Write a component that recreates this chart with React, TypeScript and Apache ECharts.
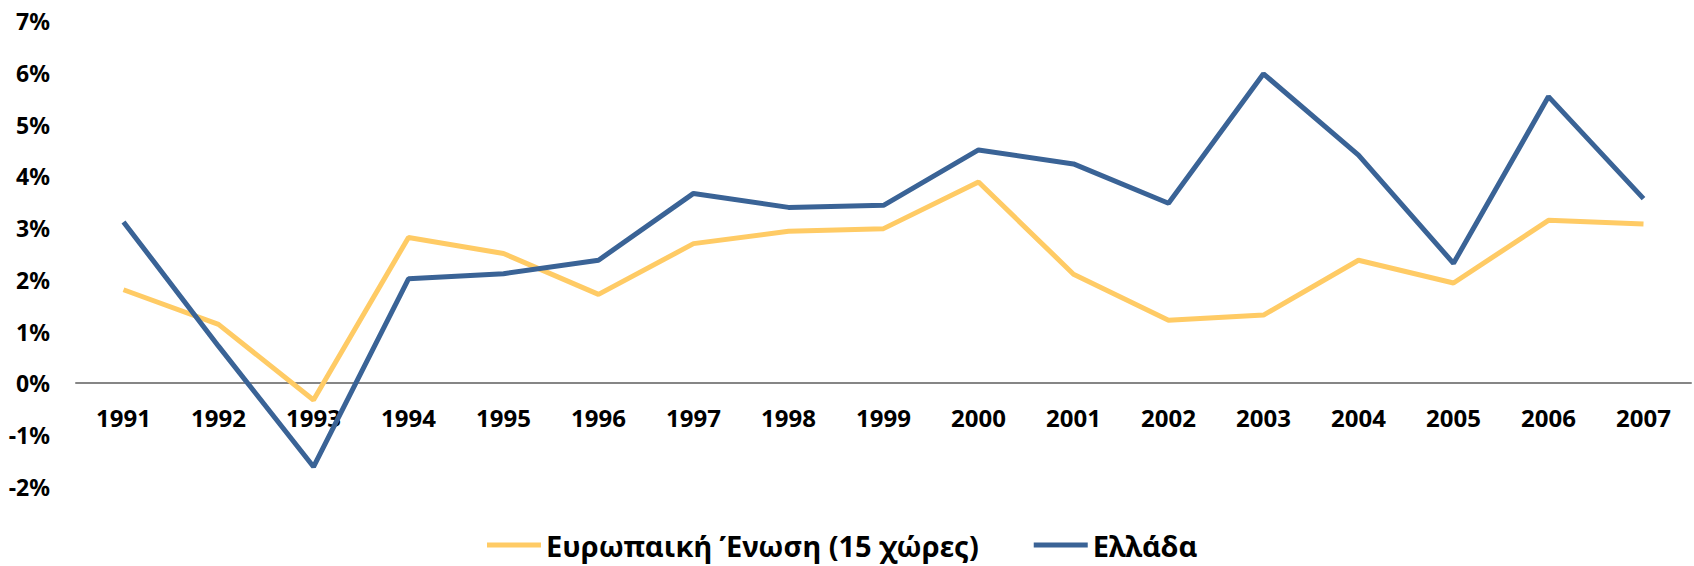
import React, { useEffect, useRef } from "react";
import * as echarts from "echarts";

const years = ["1991","1992","1993","1994","1995","1996","1997","1998","1999","2000","2001","2002","2003","2004","2005","2006","2007"];
const euValues = [1.81, 1.14, -0.32, 2.82, 2.51, 1.72, 2.70, 2.94, 2.99, 3.89, 2.11, 1.22, 1.32, 2.38, 1.94, 3.15, 3.08];
const greeceValues = [3.12, 0.72, -1.61, 2.02, 2.12, 2.38, 3.67, 3.40, 3.44, 4.51, 4.24, 3.48, 5.98, 4.41, 2.32, 5.54, 3.57];
const seriesNames = ["Ευρωπαική Ένωση (15 χώρες)", "Ελλάδα"];
const seriesColors = ["#FFCB65", "#3A6396"];

export default function App() {
  const ref = useRef<HTMLDivElement>(null);
  useEffect(() => {
    if (!ref.current) return;
    const chart = echarts.init(ref.current, null, { renderer: "svg" });
    const font = "'Noto Sans', sans-serif";
    chart.setOption({
      animation: false,
      backgroundColor: "#ffffff",
      textStyle: { fontFamily: font },
      grid: { left: 76, right: 3, top: 21, bottom: 79, containLabel: false },
      legend: {
        left: 487,
        top: 530,
        padding: 0,
        itemWidth: 54,
        itemHeight: 5,
        itemGap: 55,
        icon: "rect",
        textStyle: { fontFamily: font, fontWeight: "bold", fontSize: 29, lineHeight: 30, color: "#000" },
        data: seriesNames,
      },
      xAxis: {
        type: "category",
        data: years,
        boundaryGap: true,
        position: "bottom",
        offset: -104,
        axisLine: { onZero: false, lineStyle: { color: "#868686", width: 2 } },
        axisTick: { show: false },
        axisLabel: { fontFamily: font, fontWeight: "bold", fontSize: 24, color: "#000", margin: 22 },
        splitLine: { show: false },
      },
      yAxis: {
        type: "value",
        min: -2,
        max: 7,
        interval: 1,
        axisLine: { show: false },
        axisTick: { show: false },
        splitLine: { show: false },
        axisLabel: {
          fontFamily: font,
          fontWeight: "bold",
          fontSize: 23,
          color: "#000",
          margin: 26,
          formatter: (v: number) => `${v}%`,
        },
      },
      series: [
        {
          name: seriesNames[0],
          type: "line",
          data: euValues,
          showSymbol: false,
          symbol: "none",
          color: seriesColors[0],
          lineStyle: { color: seriesColors[0], width: 5 },
        },
        {
          name: seriesNames[1],
          type: "line",
          data: greeceValues,
          showSymbol: false,
          symbol: "none",
          color: seriesColors[1],
          lineStyle: { color: seriesColors[1], width: 5 },
        },
      ],
    });
    return () => chart.dispose();
  }, []);
  return (
    <div
      ref={ref}
      style={{ position: "fixed", left: 0, top: 0, width: 1694, height: 566, background: "#fff" }}
    />
  );
}
